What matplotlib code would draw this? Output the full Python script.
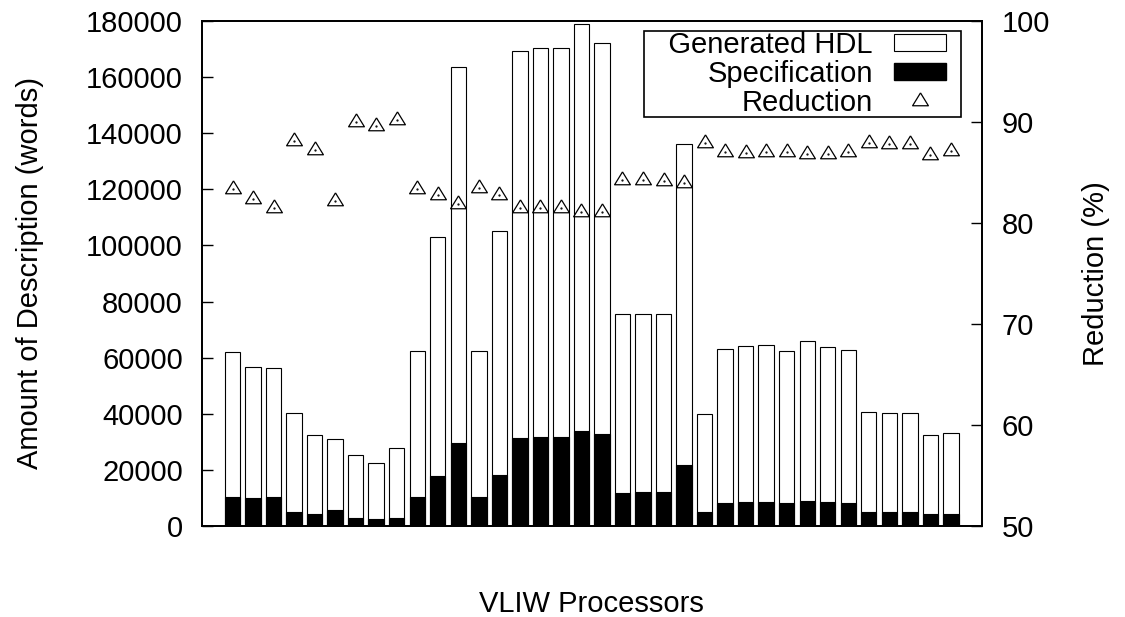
import matplotlib
matplotlib.use("Agg")
import matplotlib.pyplot as plt
import numpy as np
from matplotlib.patches import Patch, Rectangle
from matplotlib.lines import Line2D
from matplotlib.legend_handler import HandlerPatch, HandlerLine2D

plt.rcParams['font.family'] = ['Liberation Sans', 'DejaVu Sans']

# words of generated HDL and of the specification, per processor
hdl = [62000, 56500, 56400, 40200, 32600, 31000, 25200, 22400, 27700,
       62200, 103100, 163500, 62200, 105100, 169400, 170300, 170300, 179100,
       172200, 75500, 75500, 75500, 136000, 39900, 63000, 64300, 64400,
       62400, 65900, 63800, 62600, 40600, 40200, 40200, 32600, 33200]
spec = [10400, 9900, 10400, 4900, 4200, 5600, 2700, 2500, 3000,
        10400, 17800, 29700, 10400, 18200, 31300, 31600, 31800, 34000,
        32800, 11800, 12000, 12000, 21900, 4900, 8100, 8500, 8500,
        8100, 8900, 8500, 8100, 4900, 4900, 4900, 4300, 4300]
# reduction (%)
reduction = [83.4, 82.4, 81.5, 88.1, 87.2, 82.2, 90.0, 89.6, 90.2,
             83.4, 82.8, 81.9, 83.5, 82.8, 81.5, 81.5, 81.5, 81.1,
             81.1, 84.3, 84.3, 84.2, 84.0, 87.9, 87.0, 86.9, 87.0,
             87.0, 86.8, 86.8, 87.0, 87.9, 87.8, 87.8, 86.7, 87.1]
labels = ["   Generated HDL", "Specification", "Reduction"]

x = np.arange(len(hdl))
fs = 21
gap = 0.5  # empty room right of the legend keys, in font sizes


def key_rect(legend, orig_handle, xdescent, ydescent, width, height, fontsize):
    return Rectangle((-xdescent, -ydescent), width - gap * fontsize, height)


class KeyMark(HandlerLine2D):
    def get_xdata(self, legend, xdescent, ydescent, width, height, fontsize):
        w = width - gap * fontsize
        return [-xdescent, -xdescent + w], [-xdescent + 0.5 * w]


fig = plt.figure(figsize=(11.25, 6.17), dpi=100)
ax = fig.add_axes([0.1793, 0.1475, 0.6933, 0.8185])
ax2 = ax.twinx()

ax.bar(x, hdl, width=0.75, color="white", edgecolor="black", linewidth=0.8, zorder=2)
ax.bar(x, spec, width=0.75, color="black", edgecolor="black", linewidth=0.8, zorder=3)

tri = [(0, 1.09), (-1, -0.54), (1, -0.54), (0, 1.09)]
ax2.plot(x, reduction, linestyle="none", marker=tri, markersize=12.4,
         markerfacecolor="none", markeredgecolor="black", markeredgewidth=0.9)
ax2.plot(x, reduction, linestyle="none", marker=".", markersize=1.2, color="black")

ax.set_xlim(-1.5, 36.5)
ax.set_ylim(0, 180000)
ax.set_yticks(np.arange(0, 180001, 20000))
ax2.set_ylim(50, 100)
ax2.set_yticks(np.arange(50, 101, 10))
ax.set_xticks([])

ax.tick_params(axis="y", direction="in", length=7.7, width=1, labelsize=fs, pad=13.5)
ax2.tick_params(axis="y", direction="in", length=7.7, width=1, labelsize=fs, pad=14.5)
for a in (ax, ax2):
    for s in a.spines.values():
        s.set_linewidth(1.3)

ax.set_ylabel("Amount of Description (words)", fontsize=fs, labelpad=30)
ax2.set_ylabel("Reduction (%)", fontsize=fs, labelpad=23)
ax.set_xlabel("VLIW Processors", fontsize=fs, labelpad=46)

h_hdl = Patch(facecolor="white", edgecolor="black", linewidth=0.8)
h_spec = Patch(facecolor="black", edgecolor="black")
h_red = Line2D([], [], linestyle="none", marker=tri, markersize=12.4,
               markerfacecolor="none", markeredgecolor="black", markeredgewidth=0.9)
leg = ax2.legend([h_hdl, h_spec, h_red], labels,
                 handler_map={Patch: HandlerPatch(patch_func=key_rect), Line2D: KeyMark()},
                 loc="upper right", bbox_to_anchor=(0.9735, 0.980), markerfirst=False,
                 fontsize=fs, frameon=True, fancybox=False, framealpha=1,
                 edgecolor="black", labelspacing=0.03, handlelength=2.3,
                 handleheight=0.5, handletextpad=0.72, borderpad=0.0,
                 borderaxespad=0)
leg.get_frame().set_linewidth(1.2)
leg.set_zorder(5)

fig.savefig("out.png", dpi=100)
